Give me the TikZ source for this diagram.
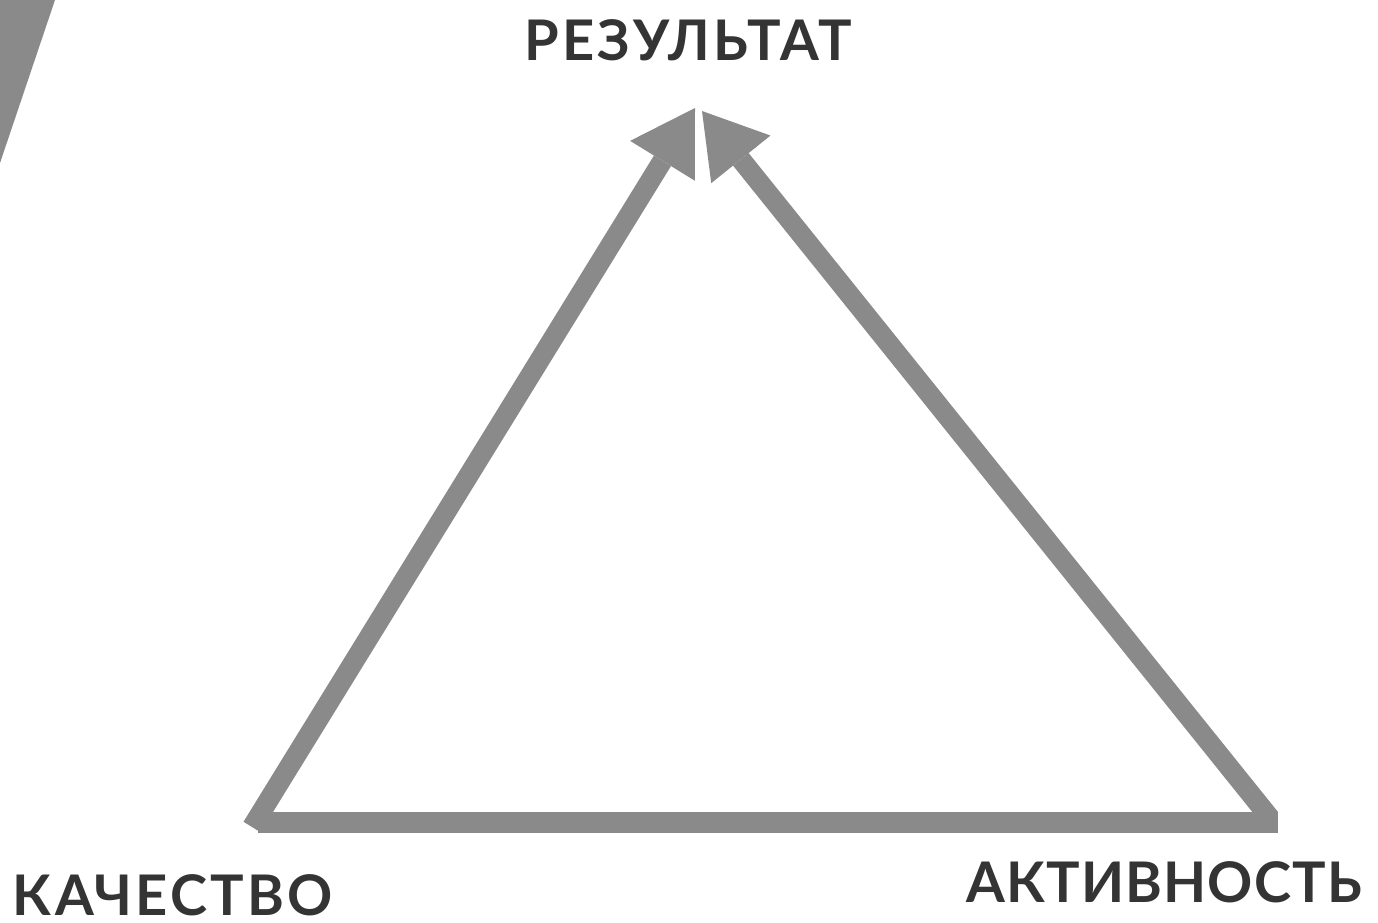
\documentclass[tikz,border=0pt]{standalone}
\usepackage{fontspec}
\setmainfont{Lato}[UprightFont=* Bold, LetterSpace=6]
\usetikzlibrary{arrows.meta}
\definecolor{linegray}{RGB}{138,138,138}
\definecolor{textdark}{RGB}{52,52,52}
\tikzset{
  edgeline/.style={draw=linegray, line width=20pt, line cap=butt},
  arrowline/.style={edgeline, -{Triangle[width=76pt,length=62pt,line width=0pt]}},
  lbl/.style={inner sep=0pt, anchor=base, text depth=0pt, text=textdark, font=\fontsize{56}{60}\selectfont}
}
\begin{document}
\begin{tikzpicture}[x=1pt,y=-1pt]
\useasboundingbox (0,0) rectangle (1378,922);
\fill[linegray] (0,0) -- (55,0) -- (0,163) -- cycle;
% vertices
\coordinate (Q) at (252,827);
\coordinate (A) at (1270,818);
\coordinate (RL) at (695,108);
\coordinate (RR) at (702,111);
\coordinate (QB) at (258,822);
\coordinate (AB) at (1278,822);
% labels
\node[lbl] (res) at (688,60) {РЕЗУЛЬТАТ};
\node[lbl] (qual) at (173,915) {КАЧЕСТВО};
\node[lbl] (act) at (1164,902) {\addfontfeature{LetterSpace=2}АКТИВНОСТЬ};
% edges
\draw[edgeline, line width=21pt] (QB) -- (AB);
\draw[arrowline] (Q) -- (RL);
\draw[arrowline] (A) -- (RR);
\end{tikzpicture}
\end{document}
